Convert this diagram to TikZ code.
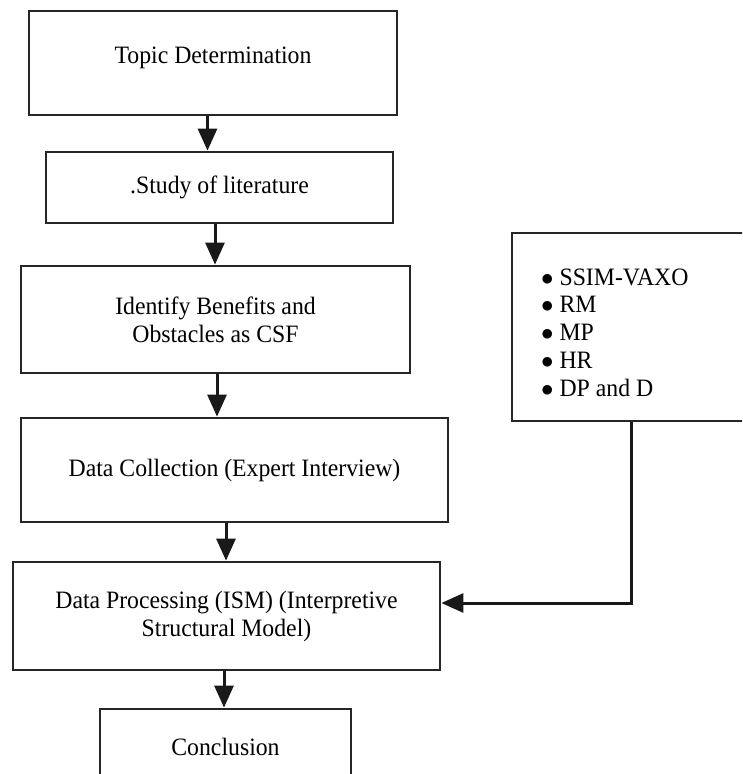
\documentclass[tikz,border=0pt]{standalone}
\usepackage{fontspec}
\setmainfont{Liberation Serif}[FakeStretch=0.95]
\usetikzlibrary{arrows.meta}
\tikzset{
  stage/.style={draw=black!85, line width=2.8pt, rectangle, align=center,
    font=\fontsize{25}{28}\selectfont},
  flow/.style={draw=black!90, line width=3pt,
    -{Triangle[length=22pt,width=19pt]}},
}

\begin{document}
\begin{tikzpicture}[x=1pt,y=-1pt]
  \useasboundingbox (0,0) rectangle (742,774);
  \clip (0,0) rectangle (742,774);

  \node[stage, minimum width=368pt, minimum height=104pt, text height=17pt, text depth=17pt] (topic) at (213,63) {Topic Determination};

  \node[stage, minimum width=347pt, minimum height=71pt] (study) at (219.5,187.5) {.Study of literature};

  \node[stage, minimum width=389pt, minimum height=107pt] (identify) at (215.5,319.5) {Identify Benefits and\\Obstacles as CSF};

  \node[stage, minimum width=427pt, minimum height=104pt] (collect) at (234.5,470) {Data Collection (Expert Interview)};

  \node[stage, minimum width=427pt, minimum height=108pt] (process) at (226.5,616) {Data Processing (ISM) (Interpretive\\Structural Model)};

  \node[stage, minimum width=251pt, minimum height=76pt] (concl) at (225.5,747) {Conclusion};

  \node[stage, minimum width=248pt, minimum height=188pt] (info) at (636,327) {};
  \node[anchor=west, inner sep=0pt, align=left, font=\fontsize{25}{27.75}\selectfont] (items) at (541,332.5)
    {$\bullet$ SSIM-VAXO\\$\bullet$ RM\\$\bullet$ MP\\$\bullet$ HR\\$\bullet$ DP and D};

  \foreach \a/\b/\s in {topic/study/-5.5, study/identify/-4.5, identify/collect/1.5, collect/process/-8.5, process/concl/-2.5}
  \draw[flow] ([xshift=\s pt]\a.south) -- ([xshift=\s pt]\a.south |- \b.north);

  \draw[flow] ([xshift=-5pt]info.south) |- ([yshift=13pt]process.east);
\end{tikzpicture}
\end{document}
